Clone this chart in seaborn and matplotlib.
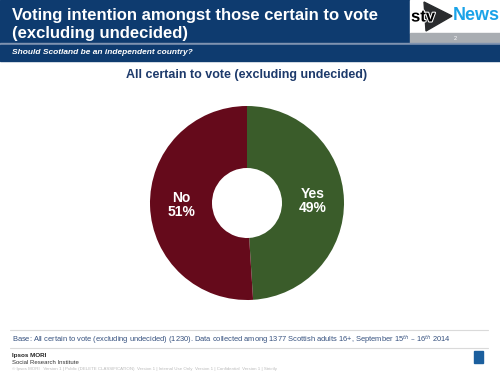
import matplotlib
matplotlib.use("Agg")
import matplotlib.pyplot as plt
import matplotlib.patheffects as pe
import seaborn as sns
from matplotlib.patches import Rectangle, Polygon

sns.set_theme(style="white")
plt.rcParams['font.family'] = ['Liberation Sans', 'DejaVu Sans']

categories = ["Yes", "No"]
values = [49, 51]
colors = ["#3a5c2a", "#650a1b"]
header_lines = ["Voting intention amongst those certain to vote", "(excluding undecided)"]
subtitle = "Should Scotland be an independent country?"
chart_title = "All certain to vote (excluding undecided)"

W, H = 500, 375
fig = plt.figure(figsize=(5, 3.75), dpi=100)
fig.patch.set_facecolor("white")

bg = fig.add_axes([0, 0, 1, 1], zorder=0)
bg.set_xlim(0, W); bg.set_ylim(H, 0); bg.axis("off")

# header band
bg.add_patch(Rectangle((0, 0), 410, 43, color="#0e3b6f"))
bg.add_patch(Rectangle((410, 0), 90, 33, color="white"))
bg.add_patch(Rectangle((410, 33), 90, 10, color="#a9adb2"))
bg.text(455, 38, "2", color="white", fontsize=4, ha="center", va="center")
bg.add_patch(Rectangle((0, 43), 500, 1.5, color="#7f93b0"))
bg.add_patch(Rectangle((0, 44.5), 500, 16, color="#0e3b6f"))
bg.text(12, 20, header_lines[0], color="white", fontsize=12, fontweight="bold",
        va="baseline", ha="left")
bg.text(12, 38, header_lines[1], color="white", fontsize=12, fontweight="bold",
        va="baseline", ha="left")
bg.text(12, 52.5, subtitle, color="white", fontsize=6, fontweight="bold",
        fontstyle="italic", va="center", ha="left")
# stv logo
bg.add_patch(Polygon([[424, 2], [452, 16], [426, 31]], closed=True, color="#2a2c2e"))
bg.text(411, 17, "stv", color="black", fontsize=12, fontweight="bold", va="center", ha="left",
        path_effects=[pe.withStroke(linewidth=1.5, foreground="white")])
bg.text(453, 16, "News", color="#1aa3e8", fontsize=13, fontweight="bold", va="center", ha="left")

# chart title
bg.text(247, 75, chart_title, color="#1d3a6b", fontsize=9, fontweight="bold",
        ha="center", va="center")

# footer
bg.plot([10, 488], [330, 330], color="#dadada", lw=0.8)
bg.plot([10, 488], [348, 348], color="#dadada", lw=0.8)
bg.text(12, 340, "Base: All certain to vote (excluding undecided) (1230). Data collected among 1377 Scottish adults 16+, September 15$^{th}$ \u2013 16$^{th}$ 2014",
        color="#35507e", fontsize=5.4, va="center", ha="left")
bg.text(12, 355, "Ipsos MORI", color="#222222", fontsize=4.5, fontweight="bold", va="center")
bg.text(12, 362, "Social Research Institute", color="#333333", fontsize=4.3, va="center")
bg.text(12, 369, "\u00a9 Ipsos MORI   Version 1 | Public (DELETE CLASSIFICATION)  Version 1 | Internal Use Only  Version 1 | Confidential  Version 1 | Strictly",
        color="#bbbbbb", fontsize=3.2, va="center")
bg.add_patch(Rectangle((474, 351), 9, 12, color="#1b5f9e"))

# donut
cx, cy, R = 247, 203, 100
ax = fig.add_axes([(cx - R) / W, 1 - (cy + R) / H, 2 * R / W, 2 * R / H], zorder=1)
wedges, texts = ax.pie(values, colors=colors, startangle=90, counterclock=False,
                       radius=0.97, labels=[f"{c}\n{v}%" for c, v in zip(categories, values)],
                       labeldistance=0.68,
                       wedgeprops=dict(width=0.62, edgecolor="none"),
                       textprops=dict(color="white", fontsize=10, fontweight="bold",
                                      ha="center", va="center", linespacing=1.05))
ax.set_xlim(-1, 1); ax.set_ylim(-1, 1)
ax.set_aspect("equal")
ax.axis("off")

fig.savefig("out.png", dpi=100)
